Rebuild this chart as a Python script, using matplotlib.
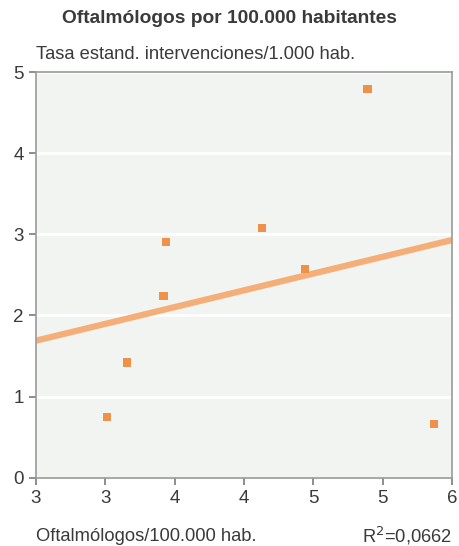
import numpy as np
import matplotlib.pyplot as plt

plt.rcParams["font.family"] = ["Liberation Sans", "DejaVu Sans"]

# Oftalmólogos por 100.000 hab. vs tasa estandarizada de intervenciones
oftalmologos = [3.51, 3.66, 3.92, 3.94, 4.63, 4.94, 5.39, 5.87]
tasa = [0.75, 1.42, 2.24, 2.91, 3.08, 2.57, 4.79, 0.66]

x_ticks = [3, 3.5, 4, 4.5, 5, 5.5, 6]
x_tick_labels = ["3", "3", "4", "4", "5", "5", "6"]
y_ticks = [0, 1, 2, 3, 4, 5]
r2_text = "R$^2$=0,0662"

text_color = "#3a3a3a"

fig = plt.figure(figsize=(4.59, 5.46), dpi=100)
ax = fig.add_axes([0.078, 0.125, 0.907, 0.743])
ax.set_facecolor("#f1f4f1")

# linea de regresion
slope, intercept = np.polyfit(oftalmologos, tasa, 1)
xl = np.array([3, 6])
ax.plot(xl, intercept + slope * xl, color="#f5ae78", lw=4.5, solid_capstyle="butt", zorder=2)

ax.scatter(oftalmologos, tasa, marker="s", s=34, color="#f0914a", edgecolors="none", zorder=3)

ax.set_xlim(3, 6)
ax.set_ylim(0, 5)
ax.set_xticks(x_ticks)
ax.set_xticklabels(x_tick_labels)
ax.set_yticks(y_ticks)
ax.yaxis.grid(True, color="white", lw=2)
ax.set_axisbelow(True)

for s in ax.spines.values():
    s.set_color("#9a9a9a")
    s.set_linewidth(1.2)
ax.tick_params(colors="#7a7a7a", labelcolor=text_color, labelsize=13.5, length=5, width=1.2)

fig.text(0.5, 0.967, "Oftalmólogos por 100.000 habitantes", ha="center", va="center",
         fontsize=13.8, fontweight="bold", color=text_color)
fig.text(0.078, 0.9, "Tasa estand. intervenciones/1.000 hab.", ha="left", va="center",
         fontsize=13.2, color=text_color)
fig.text(0.078, 0.018, "Oftalmólogos/100.000 hab.", ha="left", va="center",
         fontsize=13.2, color=text_color)
fig.text(0.985, 0.018, r2_text, ha="right", va="center",
         fontsize=13.2, color=text_color)

plt.savefig("out.png", dpi=100)
